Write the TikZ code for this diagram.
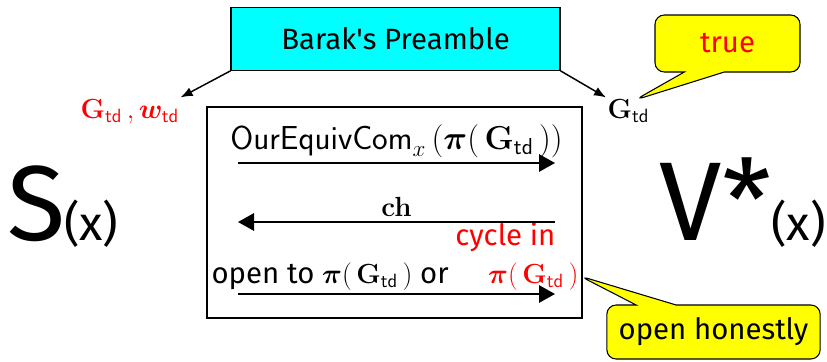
\documentclass[tikz,border=0pt]{standalone}
\usepackage[no-math]{fontspec}
\setmainfont{Fira Sans}
\usepackage{amsmath,bm}
\usetikzlibrary{shapes.callouts,arrows.meta}

\definecolor{boxcyan}{RGB}{0,255,255}
\definecolor{notey}{RGB}{255,255,0}
\newcommand{\Gtd}{\mathbf{G}_{\mathsf{td}}}
\newcommand{\wtd}{\boldsymbol{w}_{\mathsf{td}}}
\newcommand{\perm}{\boldsymbol{\pi}}

\begin{document}
\begin{tikzpicture}[x=0.75pt, y=-0.75pt, font=\fontsize{22}{26}\selectfont]

      \tikzset{preamble/.style={draw, thick, fill=boxcyan, inner sep=0pt, minimum width=246.75pt, minimum height=47pt},
               bubble/.style={rectangle callout, draw, thick, fill=notey, rounded corners=7pt, inner sep=0pt, callout pointer width=30pt},
               msg/.style={->, >={Triangle[length=12pt, width=13pt]}, line width=1.5pt},
               feed/.style={->, >={Latex[length=9pt, width=7pt]}, line width=1.1pt}}
      \useasboundingbox (0,0) rectangle (827,361);
%% Parties
      	\node[anchor=base west, inner sep=0pt] (prover) at (7,240) {\fontsize{80}{90}\selectfont S\kern-1pt\fontsize{36}{40}\selectfont(x)};
      	\node[anchor=base east, inner sep=0pt] (verifier) at (826,240) {\fontsize{84}{90}\selectfont V*\fontsize{36}{40}\selectfont(x)};
%% Preamble and its outputs
      	\node[preamble] (barak) at (395.5,39) {Barak\textquotesingle s Preamble};
      	\node[anchor=base west, inner sep=1pt, text=red] (simkey) at (79,118) {$\Gtd\,,\wtd$};
      	\node[anchor=base west, inner sep=1pt] (verkey) at (606,118) {$\Gtd$};
      	\coordinate (truetip) at (635,100);
      	\node[bubble, minimum width=108.75pt, minimum height=42.75pt, callout absolute pointer={(truetip)}, text=red] (truenote) at (727.5,43.5) {true};
%% Protocol
      	\node[draw, line width=1pt, inner sep=0pt, minimum width=281.25pt, minimum height=158.25pt] (proto) at (394.5,212.5) {};
      	\coordinate (m1a) at (238,163);
      	\coordinate (m1b) at (555,163);
      	\coordinate (m2a) at (555,222);
      	\coordinate (m2b) at (238,222);
      	\coordinate (m3a) at (238,294);
      	\coordinate (m3b) at (555,294);
      	\node[anchor=base east, text=red, inner sep=1pt] (cyclein) at (557,245) {cycle in};
      	\node[anchor=base west, inner sep=1pt] (openlbl) at (210,283) {open to $\perm(\,\Gtd\,)$ or};
      	\node[anchor=base east, text=red, inner sep=1pt] (opened) at (580,283) {$\perm(\,\Gtd\,)$};
      	\node[bubble, minimum width=160pt, minimum height=40.5pt, callout absolute pointer={(opened.east)}] (honest) at (713.5,332) {open honestly};
%Edges
		\path [feed] (barak.south west) edge (simkey.north east);
		\path [feed] (barak.south east) edge (verkey.north west);
		\path [msg] (m1a) edge node[midway, above, font=\fontsize{23}{26}\selectfont] {$\mathsf{OurEquivCom}_x\,(\perm(\,\Gtd\,))$} (m1b);
		\path [msg] (m2a) edge node[midway, above] {$\mathbf{ch}$} (m2b);
		\path [msg] (m3a) edge (m3b);

	\end{tikzpicture}
\end{document}
